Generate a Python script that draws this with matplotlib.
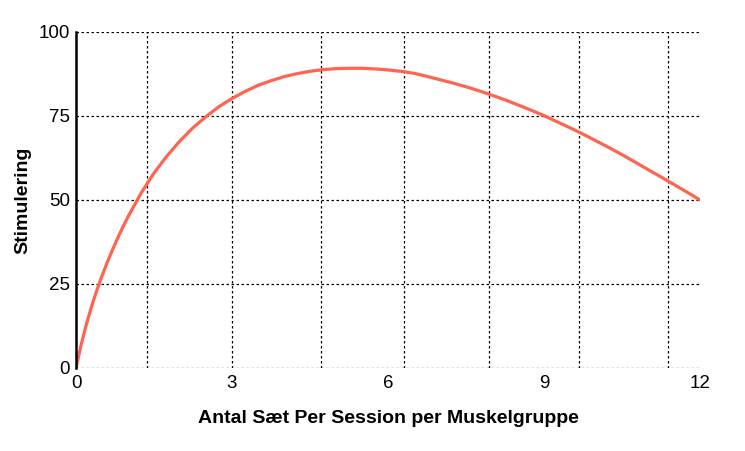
import matplotlib.pyplot as plt

# Data
sets = [0, 0.1, 0.2, 0.3, 0.4, 0.5, 0.6, 0.7, 0.8, 0.9, 1.0, 1.25, 1.5, 1.75, 2.0, 2.25,
        2.5, 2.75, 3.0, 3.25, 3.5, 3.75, 4.0, 4.25, 4.5, 4.75, 5.0, 5.25, 5.5,
        5.75, 6.0, 6.25, 6.5, 6.75, 7.0, 7.25, 7.5, 7.75, 8.0, 8.25, 8.5, 8.75,
        9.0, 9.25, 9.5, 9.75, 10.0, 10.25, 10.5, 10.75, 11.0, 11.25, 11.5,
        11.75, 12.0]
stimulus = [0, 7.0, 13.0, 18.3, 23.1, 27.4, 31.4, 35.1, 38.6, 41.9, 45.0, 52.0, 58.0,
            63.1, 67.6, 71.5, 74.8, 77.8, 80.2, 82.3, 84.1, 85.5, 86.7, 87.6, 88.3, 88.8,
            89.1, 89.2, 89.2, 89.0, 88.7, 88.3, 87.7, 86.8, 85.8, 84.8, 83.7, 82.5,
            81.2, 79.8, 78.3, 76.75, 75.1, 73.3, 71.5, 69.6, 67.6, 65.6, 63.5, 61.3,
            59.05, 56.85, 54.6, 52.35, 50]

x_ticks = [0, 3, 6, 9, 12]
y_ticks = [0, 25, 50, 75, 100]
grid_x = [1.37, 3.0, 4.72, 6.31, 7.95, 9.67, 11.38]

plt.rcParams['font.family'] = ['Liberation Sans', 'DejaVu Sans']

fig = plt.figure(figsize=(7.45, 4.51), dpi=100)
ax = fig.add_axes([76 / 745, 1 - 368 / 451, 624 / 745, 336 / 451])

# Grid lines
for gx in grid_x:
    ax.axvline(gx, color='black', lw=0.9, ls=(0, (2, 2)), zorder=1)
for gy in y_ticks:
    ax.axhline(gy, color='black', lw=0.9, ls=(0, (2, 2)), zorder=1)

ax.plot(sets, stimulus, color='#ff6450', lw=2.3, zorder=3,
        solid_capstyle='round', solid_joinstyle='round')

ax.set_xlim(0, 12)
ax.set_ylim(0, 100)
ax.set_xticks(x_ticks)
ax.set_yticks(y_ticks)
ax.tick_params(length=0, labelsize=13.5)
ax.tick_params(axis='y', pad=4.5)
ax.tick_params(axis='x', pad=5)

for side in ['top', 'right', 'bottom']:
    ax.spines[side].set_visible(False)
ax.spines['left'].set_linewidth(1.8)
ax.spines['left'].set_zorder(4)

ax.set_xlabel("Antal Sæt Per Session per Muskelgruppe", fontsize=14,
              fontweight='bold', labelpad=13)
ax.set_ylabel("Stimulering", fontsize=14, fontweight='bold', labelpad=5)

fig.savefig('out.png', dpi=100)
